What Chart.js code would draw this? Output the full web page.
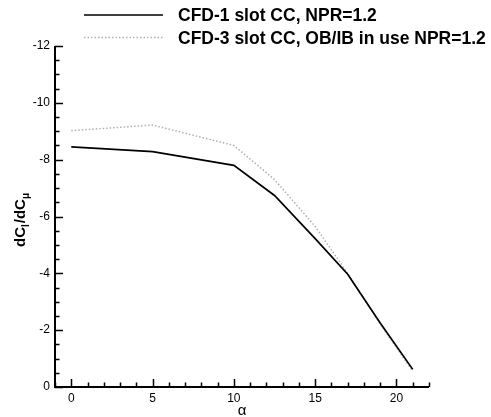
<!DOCTYPE html>
<html>
<head>
<meta charset="utf-8">
<script src="https://cdn.jsdelivr.net/npm/chart.js@4"></script>
<style>
  html, body { margin: 0; padding: 0; background: #fff; }
</style>
</head>
<body>
<canvas id="chart" width="491" height="417"></canvas>
<script>
'use strict';

// alpha (deg) values of the runs
const alpha = [0, 5, 10, 12.5, 15, 17, 19, 21];
// dCl/dCmu
const cfd1Slot = [-8.45, -8.28, -7.8, -6.74, -5.22, -3.97, -2.25, -0.62];
const cfd3Slot = [-9.02, -9.22, -8.5, -7.3, -5.65, -4.0, -2.22, -0.55];

const seriesLabels = ['CFD-1 slot CC, NPR=1.2', 'CFD-3 slot CC, OB/IB in use NPR=1.2'];
const xTicks = [0, 5, 10, 15, 20];
const yTicks = [0, -2, -4, -6, -8, -10, -12];

const FONT = '"Liberation Sans", Arial, Helvetica, sans-serif';

function toPoints(xs, ys) {
    return xs.map(function (x, i) { return {x: x, y: ys[i]}; });
}

// axis lines, inward ticks, legend and axis titles
const decorPlugin = {
    id: 'decor',
    afterDraw: function (chart) {
        const ctx = chart.ctx;
        const area = chart.chartArea;
        const xs = chart.scales.x;
        const ys = chart.scales.y;
        ctx.save();

        // minor + major ticks, pointing into the plot
        ctx.strokeStyle = '#000';
        ctx.lineWidth = 1.5;
        ctx.beginPath();
        for (let v = -1; v <= 22; v++) {
            const px = Math.round(xs.getPixelForValue(v)) + 0.5;
            const len = (v % 5 === 0) ? 8 : 4.5;
            ctx.moveTo(px, area.bottom);
            ctx.lineTo(px, area.bottom - len);
        }
        for (let k = 0; k <= 24; k++) {
            const v = -k * 0.5;
            const py = Math.round(ys.getPixelForValue(v)) + 0.5;
            const len = (k % 4 === 0) ? 8 : 4.5;
            ctx.moveTo(area.left, py);
            ctx.lineTo(area.left + len, py);
        }
        ctx.stroke();

        // axis lines
        ctx.lineWidth = 2;
        ctx.beginPath();
        ctx.moveTo(area.left, area.top);
        ctx.lineTo(area.left, area.bottom);
        ctx.lineTo(area.right, area.bottom);
        ctx.stroke();

        // legend
        const rows = [15, 37.5];
        chart.data.datasets.forEach(function (ds, i) {
            ctx.strokeStyle = ds.borderColor;
            ctx.lineWidth = ds.borderWidth;
            ctx.setLineDash(ds.borderDash || []);
            ctx.beginPath();
            ctx.moveTo(84, rows[i]);
            ctx.lineTo(163, rows[i]);
            ctx.stroke();
            ctx.setLineDash([]);
            ctx.fillStyle = '#000';
            ctx.font = 'bold 17.5px ' + FONT;
            ctx.textAlign = 'left';
            ctx.textBaseline = 'alphabetic';
            ctx.fillText(ds.label, 178, rows[i] + 6);
        });

        // x title
        ctx.fillStyle = '#000';
        ctx.font = '15px ' + FONT;
        ctx.textAlign = 'center';
        ctx.fillText('\u03b1', (area.left + area.right) / 2, 415);

        // y title: dC_l/dC_mu, rotated
        ctx.translate(25, 247);
        ctx.rotate(-Math.PI / 2);
        ctx.textAlign = 'left';
        const parts = [
            {t: 'dC', sub: false},
            {t: 'l', sub: true},
            {t: '/dC', sub: false},
            {t: '\u03bc', sub: true}
        ];
        let cx = 0;
        parts.forEach(function (p) {
            ctx.font = p.sub ? 'bold 10px ' + FONT : 'bold 15px ' + FONT;
            ctx.fillText(p.t, cx, p.sub ? 4 : 0);
            cx += ctx.measureText(p.t).width + (p.sub ? 1 : 0);
        });

        ctx.restore();
    }
};

const ctx = document.getElementById('chart').getContext('2d');
const chart = new Chart(ctx, {
    type: 'scatter',
    data: {
        datasets: [
            {
                label: seriesLabels[0],
                data: toPoints(alpha, cfd1Slot),
                showLine: true,
                borderColor: '#000',
                borderWidth: 1.7,
                pointRadius: 0,
                tension: 0
            },
            {
                label: seriesLabels[1],
                data: toPoints(alpha, cfd3Slot),
                showLine: true,
                borderColor: '#b0b0b0',
                borderWidth: 1.5,
                borderDash: [1.5, 2],
                pointRadius: 0,
                tension: 0
            }
        ]
    },
    options: {
        responsive: false,
        animation: false,
        layout: {padding: {top: 46, right: 62, left: 0, bottom: 0}},
        plugins: {
            legend: {display: false},
            tooltip: {enabled: false}
        },
        scales: {
            x: {
                type: 'linear',
                min: -1,
                max: 22,
                grid: {display: false, drawTicks: false},
                border: {display: false},
                afterBuildTicks: function (scale) {
                    scale.ticks = xTicks.map(function (v) { return {value: v}; });
                },
                afterFit: function (scale) { scale.height = 30; },
                ticks: {
                    padding: 4,
                    color: '#000',
                    maxRotation: 0,
                    font: {family: FONT, size: 12}
                }
            },
            y: {
                type: 'linear',
                min: -12,
                max: 0,
                reverse: true,
                grid: {display: false, drawTicks: false},
                border: {display: false},
                afterBuildTicks: function (scale) {
                    scale.ticks = yTicks.map(function (v) { return {value: v}; });
                },
                afterFit: function (scale) { scale.width = 55; },
                ticks: {
                    padding: 5,
                    color: '#000',
                    font: {family: FONT, size: 12}
                }
            }
        }
    },
    plugins: [decorPlugin]
});
</script>
</body>
</html>
